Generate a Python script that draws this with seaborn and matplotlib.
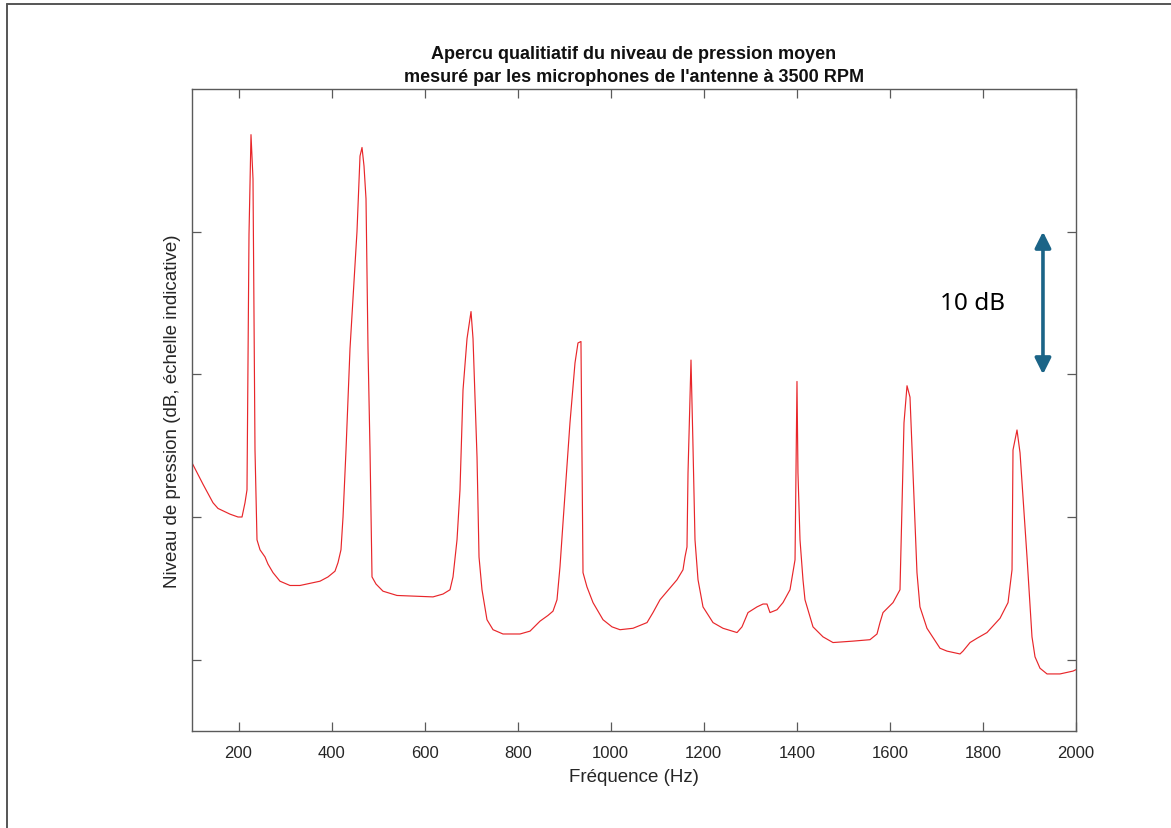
import numpy as np
import pandas as pd
import matplotlib
matplotlib.use("Agg")
import matplotlib.pyplot as plt
from matplotlib.lines import Line2D
import seaborn as sns

# ---- data ----
freq_hz = [100, 123.6, 145.1, 155.9, 181.7, 198.9, 207.5, 213.9, 218.2, 222.5,
           226.8, 231.1, 235.4, 239.7, 246.2, 256.9, 263.3, 274.1, 289.1, 310.6,
           332.1, 375.1, 392.3, 407.3, 413.8, 420.2, 424.6, 431.0, 439.6, 454.6,
           461.1, 465.4, 469.7, 474.0, 478.3, 482.6, 486.9, 495.5, 510.5, 540.6,
           618.0, 639.5, 654.5, 661.0, 669.6, 676.0, 682.5, 691.1, 699.7, 704.0,
           712.6, 716.9, 723.3, 734.0, 747.0, 768.4, 805.0, 826.5, 848.0, 865.1,
           875.9, 884.5, 890.9, 897.4, 912.4, 923.2, 929.6, 936.0, 940.4, 948.9,
           961.9, 983.4, 1002.7, 1019.9, 1047.8, 1078.0, 1090.8, 1105.9, 1142.4, 1155.3,
           1159.6, 1163.9, 1166.1, 1172.5, 1176.5, 1181.1, 1187.6, 1198.3, 1219.8, 1241.3,
           1271.4, 1282.1, 1295.0, 1314.4, 1327.3, 1335.8, 1342.3, 1357.4, 1370.2, 1385.3,
           1396.1, 1400.3, 1402.4, 1406.8, 1413.2, 1417.5, 1434.7, 1456.2, 1477.7, 1520.7,
           1557.2, 1572.3, 1578.7, 1585.2, 1606.7, 1621.7, 1626.0, 1630.3, 1636.8, 1643.2,
           1649.6, 1658.2, 1664.6, 1679.7, 1707.7, 1722.7, 1750.7, 1757.1, 1772.2, 1787.2,
           1808.7, 1836.7, 1853.9, 1862.5, 1864.6, 1873.2, 1879.7, 1894.7, 1905.4, 1911.9,
           1922.6, 1937.7, 1965.6, 1993.6, 2000.0]
level_db = [53.8, 52.3, 51.0, 50.6, 50.2, 50.0, 50.0, 51.0, 51.9, 69.8,
            76.8, 73.7, 54.7, 48.4, 47.7, 47.2, 46.7, 46.1, 45.5, 45.2,
            45.2, 45.5, 45.8, 46.2, 46.8, 47.7, 50.0, 54.7, 61.8, 70.0,
            75.3, 75.9, 74.6, 72.3, 61.8, 54.7, 45.8, 45.3, 44.8, 44.5,
            44.4, 44.6, 44.9, 45.8, 48.4, 51.9, 58.9, 62.5, 64.4, 62.5,
            54.2, 47.2, 44.9, 42.8, 42.1, 41.8, 41.8, 42.0, 42.7, 43.1,
            43.4, 44.2, 46.5, 49.6, 56.6, 60.8, 62.2, 62.3, 46.1, 45.1,
            44.0, 42.8, 42.3, 42.1, 42.2, 42.6, 43.3, 44.2, 45.6, 46.3,
            47.2, 47.9, 53.1, 61.0, 55.4, 48.4, 45.6, 43.7, 42.6, 42.2,
            41.9, 42.3, 43.3, 43.7, 43.9, 43.9, 43.3, 43.5, 44.0, 44.9,
            47.0, 59.5, 53.1, 48.4, 45.6, 44.2, 42.3, 41.6, 41.2, 41.3,
            41.4, 41.8, 42.6, 43.3, 44.0, 44.9, 50.7, 56.6, 59.2, 58.4,
            53.1, 46.1, 43.7, 42.2, 40.8, 40.6, 40.4, 40.6, 41.2, 41.5,
            41.9, 42.9, 44.0, 46.3, 54.7, 56.1, 54.5, 47.2, 41.6, 40.2,
            39.4, 39.0, 39.0, 39.2, 39.3]

x_ticks = [200, 400, 600, 800, 1000, 1200, 1400, 1600, 1800, 2000]
y_ticks = [40, 50, 60, 70]

title_text = "Apercu qualitiatif du niveau de pression moyen\nmesuré par les microphones de l'antenne à 3500 RPM"
xlabel_text = "Fréquence (Hz)"
ylabel_text = "Niveau de pression (dB, échelle indicative)"
scale_text = "10 dB"

df = pd.DataFrame({"f": freq_hz, "L": level_db})

sns.set_theme(style="white")
plt.rcParams["font.family"] = ["Liberation Sans", "DejaVu Sans"]

fig = plt.figure(figsize=(11.71, 8.29), dpi=100)
ax = fig.add_axes([192 / 1171, 1 - 732 / 829, (1076 - 192) / 1171, (732 - 90) / 829])

sns.lineplot(data=df, x="f", y="L", ax=ax, color="#e8262a", linewidth=0.85,
             estimator=None, sort=False)

ax.set_xlim(100, 2000)
ax.set_ylim(35, 80)
ax.set_xticks(x_ticks)
ax.set_xticklabels([str(t) for t in x_ticks])
ax.set_yticks(y_ticks)
ax.set_yticklabels([])

spine_col = "#5a5a5a"
for s in ax.spines.values():
    s.set_visible(True)
    s.set_color(spine_col)
    s.set_linewidth(1.0)

ax.tick_params(axis="both", which="both", direction="in", length=6.5, width=0.9,
               color=spine_col, top=True, right=True, bottom=True, left=True,
               labelsize=12, labelcolor="#262626", pad=10)
ax.tick_params(axis="y", labelleft=False)

ax.set_xlabel(xlabel_text, fontsize=13.5, color="#262626", labelpad=6)
ax.set_ylabel(ylabel_text, fontsize=13.5, color="#262626", labelpad=8)
ax.set_title(title_text, fontsize=13, fontweight="bold", color="#111111", pad=6,
             linespacing=1.4)

# 10 dB scale arrow
arrow_col = "#1b6487"
ax.annotate("", xy=(1929, 70), xytext=(1929, 60),
            arrowprops=dict(arrowstyle="<|-|>", color=arrow_col, lw=2.6,
                            mutation_scale=24, shrinkA=0, shrinkB=0))
ax.text(1778, 65.0, scale_text, fontsize=17.5, ha="center", va="center",
        color="black", family=["Noto Sans", "DejaVu Sans"])

# figure frame lines (top and left)
fig.add_artist(Line2D([7 / 1171, 7 / 1171], [0, 1 - 5 / 829], transform=fig.transFigure,
                      color="#555555", lw=1.4))
fig.add_artist(Line2D([7 / 1171, 1], [1 - 5 / 829, 1 - 5 / 829], transform=fig.transFigure,
                      color="#555555", lw=1.4))

fig.savefig("out.png", dpi=100, facecolor="white")
